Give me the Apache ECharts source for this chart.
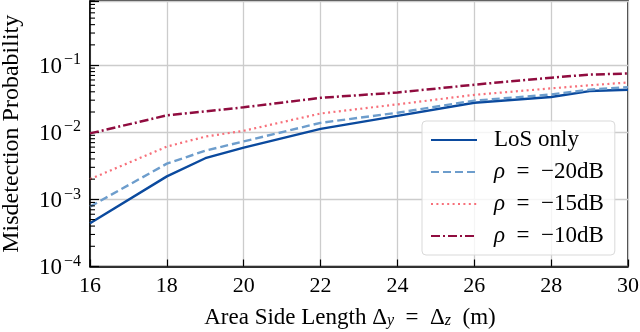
<!DOCTYPE html>
<html>
<head>
<meta charset="utf-8">
<script src="https://cdn.jsdelivr.net/npm/echarts@6/dist/echarts.min.js"></script>
<style>
  html, body { margin: 0; padding: 0; background: #fff; }
  #chart { width: 640px; height: 332px; }
</style>
</head>
<body>
<div id="chart"></div>
<script>
// x positions (area side length, m)
const sideLength = [16, 18, 19, 20, 22, 24, 26, 28, 29, 30]
// misdetection probability per series
const losOnly = [4.4e-4, 2.2e-3, 4.1e-3, 5.9e-3, 1.12e-2, 1.75e-2, 2.75e-2, 3.35e-2, 4.1e-2, 4.3e-2]
const rho20 = [7.8e-4, 3.4e-3, 5.3e-3, 7.3e-3, 1.38e-2, 1.95e-2, 2.95e-2, 3.65e-2, 4.3e-2, 4.7e-2]
const rho15 = [2.0e-3, 6.1e-3, 8.6e-3, 1.05e-2, 1.9e-2, 2.6e-2, 3.6e-2, 4.5e-2, 5.0e-2, 5.5e-2]
const rho10 = [9.6e-3, 1.78e-2, 2.05e-2, 2.35e-2, 3.25e-2, 3.9e-2, 5.1e-2, 6.5e-2, 7.2e-2, 7.5e-2]

const seriesNames = ['LoS only', 'ρ = −20dB', 'ρ = −15dB', 'ρ = −10dB']
const xTicks = [16, 18, 20, 22, 24, 26, 28, 30]
const yDecades = [1e-4, 1e-3, 1e-2, 1e-1]
const yMax = 0.9

// minor ticks 2..9 x 10^k on the log axis
const minorTicks = []
yDecades.forEach(d => {
  for (let m = 2; m <= 9; m++) {
    if (m * d <= yMax) minorTicks.push(m * d)
  }
})

const font = 'Liberation Serif'
const pairs = ys => sideLength.map((x, i) => [x, ys[i]])

const chartDom = document.getElementById('chart')
const myChart = echarts.init(chartDom)

const lineSeries = (name, ys, color, type, width) => ({
  name: name,
  type: 'line',
  data: pairs(ys),
  symbol: 'none',
  lineStyle: { color: color, width: width, type: type },
  itemStyle: { color: color },
  z: 3
})

const option = {
  animation: false,
  backgroundColor: '#fff',
  textStyle: { fontFamily: font },
  grid: {
    left: 90, right: 12, top: 1, bottom: 65.5,
    outerBoundsMode: 'none',
    containLabel: false,
    show: true, borderColor: '#000', borderWidth: 1.5
  },
  legend: {
    data: seriesNames,
    orient: 'vertical',
    left: 422, top: 121,
    padding: [7, 11, 7, 8],
    itemGap: 8,
    itemWidth: 46,
    itemHeight: 14,
    itemStyle: { opacity: 0 },
    backgroundColor: 'rgba(255,255,255,0.8)',
    borderColor: '#d9d9d9',
    borderWidth: 1,
    borderRadius: 4,
    formatter: name => name.startsWith('ρ')
      ? '{i|ρ}{t|\u2002=\u2002' + name.slice(4) + '}'
      : '{t|' + name + '}',
    textStyle: {
      fontFamily: font, fontSize: 23, color: '#000',
      lineHeight: 24, padding: [0, 0, 0, 12],
      rich: {
        i: { fontFamily: font, fontSize: 23, fontStyle: 'italic', color: '#000', lineHeight: 24 },
        t: { fontFamily: font, fontSize: 23, color: '#000', lineHeight: 24 }
      }
    }
  },
  xAxis: {
    type: 'value',
    min: 16, max: 30, interval: 2,
    name: 'Area Side Length Δ{sub|y}\u2002=\u2002Δ{sub|z}\u2002(m)',
    nameLocation: 'middle',
    nameGap: 40,
    nameTextStyle: {
      fontFamily: font, fontSize: 23, color: '#000',
      padding: [0, 18, 0, 0],
      rich: { sub: { fontFamily: font, fontSize: 16, fontStyle: 'italic', padding: [6, 0, 0, 0], color: '#000' } }
    },
    axisLine: { lineStyle: { color: '#000', width: 1.5 } },
    axisTick: { inside: true, length: 7, lineStyle: { color: '#000', width: 1.2 } },
    axisLabel: { margin: 9, fontFamily: font, fontSize: 22, color: '#000',
      formatter: v => xTicks.includes(v) ? String(v) : '' },
    splitLine: { show: true, lineStyle: { color: '#cccccc', width: 1.3 } }
  },
  yAxis: {
    type: 'log',
    min: 1e-4, max: yMax,
    name: 'Misdetection Probability',
    nameLocation: 'middle',
    nameGap: 66,
    nameTextStyle: { fontFamily: font, fontSize: 24, color: '#000' },
    axisLine: { lineStyle: { color: '#000', width: 1.5 } },
    axisTick: { inside: true, length: 9, lineStyle: { color: '#000', width: 1.2 } },
    axisLabel: {
      margin: 9,
      formatter: v => {
        const e = Math.round(Math.log10(v))
        if (Math.abs(Math.log10(v) - e) > 1e-6) return ''
        return '{b|10}{s|−' + Math.abs(e) + '}'
      },
      rich: {
        b: { fontFamily: font, fontSize: 23, color: '#000', lineHeight: 22, verticalAlign: 'bottom' },
        s: { fontFamily: font, fontSize: 16, color: '#000', verticalAlign: 'top', padding: [0, 0, 10, 2] }
      }
    },
    splitLine: { show: true, lineStyle: { color: '#cccccc', width: 1.3 } }
  },
  series: [
    lineSeries(seriesNames[0], losOnly, '#0b4a9e', 'solid', 2.4),
    lineSeries(seriesNames[1], rho20, '#6d9dcc', [8, 4], 2.4),
    lineSeries(seriesNames[2], rho15, '#f7707a', [2, 3.4], 2.2),
    lineSeries(seriesNames[3], rho10, '#900c3f', [9, 3, 2, 3], 2.5),
    {
      name: 'minor',
      type: 'custom',
      silent: true,
      z: 4,
      data: minorTicks.map(v => [16, v]),
      renderItem: (params, api) => {
        const p = api.coord([api.value(0), api.value(1)])
        return {
          type: 'line',
          shape: { x1: p[0], y1: p[1], x2: p[0] + 5, y2: p[1] },
          style: { stroke: '#000', lineWidth: 1.1 }
        }
      }
    }
  ]
}
myChart.setOption(option)
</script>
</body>
</html>
